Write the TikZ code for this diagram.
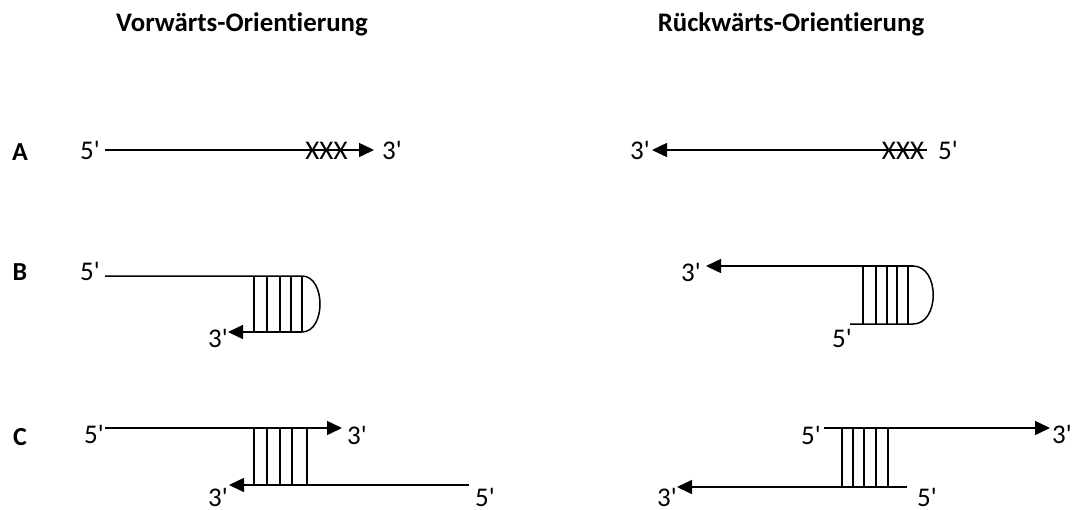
\documentclass[tikz,border=0pt]{standalone}
\usepackage{fontspec}
\newfontfamily\labfont{Carlito}[Ligatures={NoCommon}]
\usetikzlibrary{arrows.meta}
\begin{document}
\begin{tikzpicture}[x=1pt,y=-1pt,
  strand/.style={line width=1.5pt},
  rung/.style={line width=1.3pt},
  tip/.style={-{Triangle[length=15pt,width=14pt]}},
  lab/.style={inner sep=0pt,font=\labfont\fontsize{27}{30}\selectfont},
  ttl/.style={inner sep=0pt,anchor=base,font=\labfont\bfseries\fontsize{26.8}{30}\selectfont},
  row/.style={inner sep=0pt,font=\labfont\bfseries\fontsize{26}{28}\selectfont}]
\useasboundingbox (0,0) rectangle (1075,509);
% titles
\node[ttl] (t1) at (242,31) {Vorwärts-Orientierung};
\node[ttl] (t2) at (791,31) {Rückwärts-Orientierung};
% row letters
\node[row] (rA) at (20,152) {A};
\node[row] (rB) at (20,272) {B};
\node[row] (rC) at (20,437) {C};
% ---------- Row A left
\node[lab] (a5) at (90,150) {5'};
\node[lab] (a3) at (392,150) {3'};
\coordinate (aS) at (105,150);
\coordinate (aE) at (374,150);
\draw[strand,tip] (aS) -- (aE);
\node[lab] (ax) at (326.5,151) {XXX};
% ---------- Row A right
\node[lab] (ar3) at (640,150) {3'};
\node[lab] (ar5) at (948,150) {5'};
\coordinate (arS) at (927,150);
\coordinate (arE) at (652,150);
\draw[strand,tip] (arS) -- (arE);
\node[lab] (arx) at (903,151) {XXX};
% ---------- Row B left
\node[lab] (b5) at (90,271) {5'};
\node[lab] (b3) at (218,338) {3'};
\coordinate (bS) at (105,276);
\coordinate (bT) at (302,276);
\coordinate (bB) at (302,332);
\coordinate (bE) at (228,332);
\draw[strand] (bS) -- (bT) .. controls (326,276) and (326,332) .. (bB);
\draw[strand,tip] (bB) -- (bE);
\foreach \x in {254,267,280,291,302}{
  \draw[rung] (\x,276) -- (\x,332);
}
% ---------- Row B right
\node[lab] (br3) at (691,272) {3'};
\node[lab] (br5) at (842,338) {5'};
\coordinate (brT) at (913,266);
\coordinate (brE) at (706,266);
\coordinate (brB) at (913,324);
\coordinate (brS) at (850,324);
\draw[strand,tip] (brT) -- (brE);
\draw[strand] (brS) -- (brB) .. controls (940,324) and (940,266) .. (brT);
\foreach \x in {863,876,887,897,908}{
  \draw[rung] (\x,266) -- (\x,324);
}
% ---------- Row C left
\node[lab] (c5) at (94,434) {5'};
\node[lab] (c3) at (357,435) {3'};
\node[lab] (c3b) at (218,497) {3'};
\node[lab] (c5b) at (485,497) {5'};
\coordinate (cS) at (105,428);
\coordinate (cE) at (342,428);
\coordinate (cbS) at (469,485);
\coordinate (cbE) at (229,485);
\draw[strand,tip] (cS) -- (cE);
\draw[strand,tip] (cbS) -- (cbE);
\foreach \x in {254,267,280,292,307}{
  \draw[rung] (\x,428) -- (\x,485);
}
% ---------- Row C right
\node[lab] (cr5) at (811,435) {5'};
\node[lab] (cr3) at (1062,434) {3'};
\node[lab] (cr3b) at (667,497) {3'};
\node[lab] (cr5b) at (927,497) {5'};
\coordinate (crS) at (824,428);
\coordinate (crE) at (1050,428);
\coordinate (crbS) at (907,487);
\coordinate (crbE) at (677,487);
\draw[strand,tip] (crS) -- (crE);
\draw[strand,tip] (crbS) -- (crbE);
\foreach \x in {842,853,864,876,888}{
  \draw[rung] (\x,428) -- (\x,487);
}
\end{tikzpicture}
\end{document}
